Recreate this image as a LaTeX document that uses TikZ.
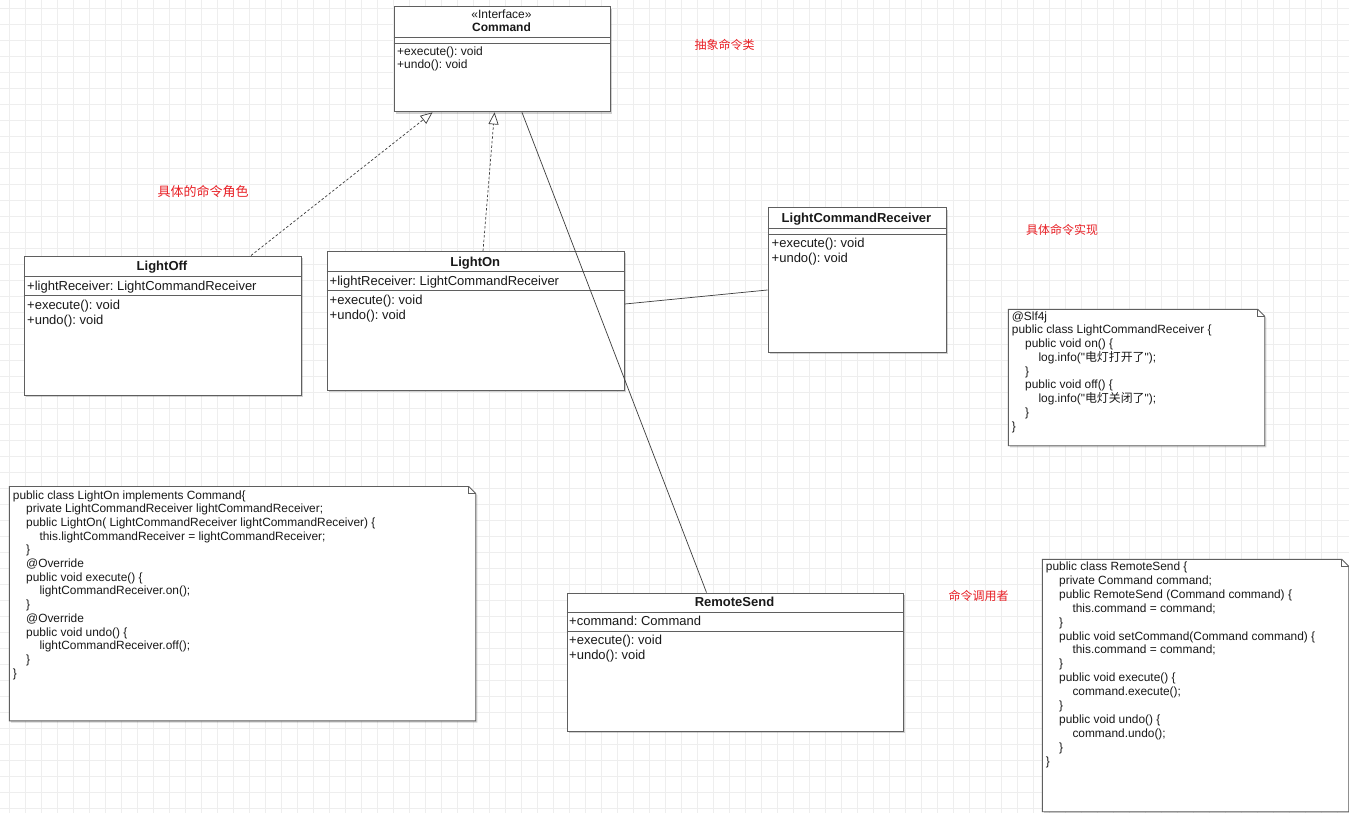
\documentclass[tikz,border=0pt]{standalone}
\usepackage{fontspec}
\setmainfont{Liberation Sans}
\newfontfamily\lsans{Liberation Sans}
\newfontfamily\cjk{Noto Sans CJK SC}
\usetikzlibrary{arrows.meta,shadows}
\frenchspacing
\definecolor{gridc}{RGB}{238,238,238}
\definecolor{boxc}{RGB}{95,95,95}
\definecolor{linec}{RGB}{60,60,60}
\definecolor{txtc}{RGB}{25,25,25}
\definecolor{labelred}{RGB}{232,30,36}
\newcommand{\myind}{\hspace*{13.3pt}}
\tikzset{
  cls/.style={draw=boxc, fill=white, line width=0.9pt, inner sep=0pt, anchor=north west,
    drop shadow={shadow xshift=1.6pt, shadow yshift=-1.6pt, opacity=0.18, fill=black}},
  sepline/.style={draw=boxc, line width=0.8pt},
  ctitle/.style={font=\lsans\bfseries\fontsize{13}{15}\selectfont, text=txtc, inner sep=0pt, anchor=base},
  mem/.style={font=\lsans\fontsize{13}{15}\selectfont, text=txtc, inner sep=0pt, anchor=base west},
  memsmall/.style={font=\lsans\fontsize{12}{14}\selectfont, text=txtc, inner sep=0pt},
  notearea/.style={inner sep=0pt, anchor=north west},
  noteshape/.style={draw=boxc, fill=white, line width=0.9pt, line join=miter},
  code/.style={font=\lsans\fontsize{11.9}{13.7}\selectfont, text=txtc, inner sep=0pt, anchor=base west},
  redlabel/.style={font=\cjk\fontsize{12}{14}\selectfont, text=labelred, inner sep=0pt, anchor=center},
  realize/.style={draw=linec, line width=0.7pt, dash pattern=on 2.5pt off 2pt,
    -{Triangle[length=12pt, width=10pt, fill=white, line width=0.7pt]}},
  assoc/.style={draw=linec, line width=0.7pt}
}
\begin{document}
\begin{tikzpicture}[x=1pt, y=-1pt]
\useasboundingbox (0,0) rectangle (1349,813);
\fill[white] (0,0) rectangle (1349,813);
% grid
\foreach \gx in {9,25,...,1349} \draw[gridc, line width=0.6pt] (\gx,0) -- (\gx,813);
\foreach \gy in {8,24,...,813} \draw[gridc, line width=0.6pt] (0,\gy) -- (1349,\gy);

% ---------- Command ----------
\node[cls, minimum width=216pt, minimum height=105pt] (command) at (393.5,6.5) {};
\draw[sepline] (command.west |- 0,37.7) -- (command.east |- 0,37.7);
\draw[sepline] (command.west |- 0,43.3) -- (command.east |- 0,43.3);
\node[memsmall, anchor=base] (command-st) at (501.5,19) {«Interface»};
\node[memsmall, anchor=base, font=\lsans\bfseries\fontsize{12}{14}\selectfont] (command-t) at (501.5,31.5) {Command};
\node[memsmall, anchor=base west] (command-m1) at (397,56) {+execute(): void};
\node[memsmall, anchor=base west] (command-m2) at (397,68.8) {+undo(): void};

% ---------- LightOff ----------
\node[cls, minimum width=277pt, minimum height=139pt] (lightoff) at (23.5,255.5) {};
\draw[sepline] (lightoff.west |- 0,276) -- (lightoff.east |- 0,276);
\draw[sepline] (lightoff.west |- 0,295.5) -- (lightoff.east |- 0,295.5);
\node[ctitle] (lightoff-t) at (162,270.5) {LightOff};
\node[mem] (lightoff-a) at (27,290.3) {+lightReceiver: LightCommandReceiver};
\node[mem] (lightoff-m1) at (27,309.5) {+execute(): void};
\node[mem] (lightoff-m2) at (27,324.2) {+undo(): void};

% ---------- LightOn ----------
\node[cls, minimum width=297.5pt, minimum height=139pt] (lighton) at (326.5,251) {};
\draw[sepline] (lighton.west |- 0,271) -- (lighton.east |- 0,271);
\draw[sepline] (lighton.west |- 0,290.5) -- (lighton.east |- 0,290.5);
\node[ctitle] (lighton-t) at (475.25,266.5) {LightOn};
\node[mem] (lighton-a) at (329.5,285.3) {+lightReceiver: LightCommandReceiver};
\node[mem] (lighton-m1) at (329.5,304.5) {+execute(): void};
\node[mem] (lighton-m2) at (329.5,319.2) {+undo(): void};

% ---------- LightCommandReceiver ----------
\node[cls, minimum width=178pt, minimum height=144pt] (receiver) at (767.5,207.5) {};
\draw[sepline] (receiver.west |- 0,228.3) -- (receiver.east |- 0,228.3);
\draw[sepline] (receiver.west |- 0,234.3) -- (receiver.east |- 0,234.3);
\node[ctitle] (receiver-t) at (856.5,222.8) {LightCommandReceiver};
\node[mem] (receiver-m1) at (771.5,247.8) {+execute(): void};
\node[mem] (receiver-m2) at (771.5,262.8) {+undo(): void};

% ---------- RemoteSend ----------
\node[cls, minimum width=336pt, minimum height=138.5pt] (remotesend) at (566.5,592.5) {};
\draw[sepline] (remotesend.west |- 0,612.7) -- (remotesend.east |- 0,612.7);
\draw[sepline] (remotesend.west |- 0,631.7) -- (remotesend.east |- 0,631.7);
\node[ctitle] (remotesend-t) at (734.5,606.5) {RemoteSend};
\node[mem] (remotesend-a) at (569,625.3) {+command: Command};
\node[mem] (remotesend-m1) at (569,644.5) {+execute(): void};
\node[mem] (remotesend-m2) at (569,659.2) {+undo(): void};

% ---------- connectors ----------
\draw[realize] (lightoff.north -| 251,0) -- (command.south -| 432.5,0);
\draw[realize] (lighton.north -| 483,0) -- (command.south -| 494.5,0);
\draw[assoc] (command.south -| 522,0) -- (remotesend.north -| 706.5,0);
\draw[assoc] (lighton.east |- 0,304) -- (receiver.west |- 0,290);

% ---------- notes ----------
\node[notearea, minimum width=466pt, minimum height=234pt] (note1) at (9.3,486.5) {};
\draw[noteshape, drop shadow={shadow xshift=1.6pt, shadow yshift=-1.6pt, opacity=0.18, fill=black}]
  (note1.north west) -- ([xshift=-7pt]note1.north east) -- ([yshift=-7pt]note1.north east)
  -- (note1.south east) -- (note1.south west) -- cycle;
\draw[noteshape, fill=none] ([xshift=-7pt]note1.north east) -- ([xshift=-7pt,yshift=-7pt]note1.north east) -- ([yshift=-7pt]note1.north east);
\node[code] (note1-text) at (12.7,499) {\begin{tabular}[t]{@{}l@{}}
public class LightOn implements Command\{\\
\myind private LightCommandReceiver lightCommandReceiver;\\
\myind public LightOn( LightCommandReceiver lightCommandReceiver) \{\\
\myind\myind this.lightCommandReceiver = lightCommandReceiver;\\
\myind \}\\
\myind @Override\\
\myind public void execute() \{\\
\myind\myind lightCommandReceiver.on();\\
\myind \}\\
\myind @Override\\
\myind public void undo() \{\\
\myind\myind lightCommandReceiver.off();\\
\myind \}\\
\}
\end{tabular}};

\node[notearea, minimum width=256pt, minimum height=136pt] (note2) at (1008.3,309.3) {};
\draw[noteshape, drop shadow={shadow xshift=1.6pt, shadow yshift=-1.6pt, opacity=0.18, fill=black}]
  (note2.north west) -- ([xshift=-7pt]note2.north east) -- ([yshift=-7pt]note2.north east)
  -- (note2.south east) -- (note2.south west) -- cycle;
\draw[noteshape, fill=none] ([xshift=-7pt]note2.north east) -- ([xshift=-7pt,yshift=-7pt]note2.north east) -- ([yshift=-7pt]note2.north east);
\node[code] (note2-text) at (1011.7,320) {\begin{tabular}[t]{@{}l@{}}
@Slf4j\\
public class LightCommandReceiver \{\\
\myind public void on() \{\\
\myind\myind log.info("{\cjk 电灯打开了}");\\
\myind \}\\
\myind public void off() \{\\
\myind\myind log.info("{\cjk 电灯关闭了}");\\
\myind \}\\
\}
\end{tabular}};

\node[notearea, minimum width=306pt, minimum height=252pt] (note3) at (1042.3,559.3) {};
\draw[noteshape, drop shadow={shadow xshift=1.6pt, shadow yshift=-1.6pt, opacity=0.18, fill=black}]
  (note3.north west) -- ([xshift=-7pt]note3.north east) -- ([yshift=-7pt]note3.north east)
  -- (note3.south east) -- (note3.south west) -- cycle;
\draw[noteshape, fill=none] ([xshift=-7pt]note3.north east) -- ([xshift=-7pt,yshift=-7pt]note3.north east) -- ([yshift=-7pt]note3.north east);
\node[code, font=\lsans\fontsize{11.9}{13.9}\selectfont] (note3-text) at (1045.7,570.5) {\begin{tabular}[t]{@{}l@{}}
public class RemoteSend \{\\
\myind private Command command;\\
\myind public RemoteSend (Command command) \{\\
\myind\myind this.command = command;\\
\myind \}\\
\myind public void setCommand(Command command) \{\\
\myind\myind this.command = command;\\
\myind \}\\
\myind public void execute() \{\\
\myind\myind command.execute();\\
\myind \}\\
\myind public void undo() \{\\
\myind\myind command.undo();\\
\myind \}\\
\}
\end{tabular}};

% ---------- red labels ----------
\node[redlabel] (lbl-abstract) at (724.5,44.5) {抽象命令类};
\node[redlabel, font=\cjk\fontsize{13}{15}\selectfont] (lbl-concrete) at (203,191.8) {具体的命令角色};
\node[redlabel] (lbl-impl) at (1062,230.3) {具体命令实现};
\node[redlabel] (lbl-invoker) at (978.7,595.8) {命令调用者};
\end{tikzpicture}
\end{document}
